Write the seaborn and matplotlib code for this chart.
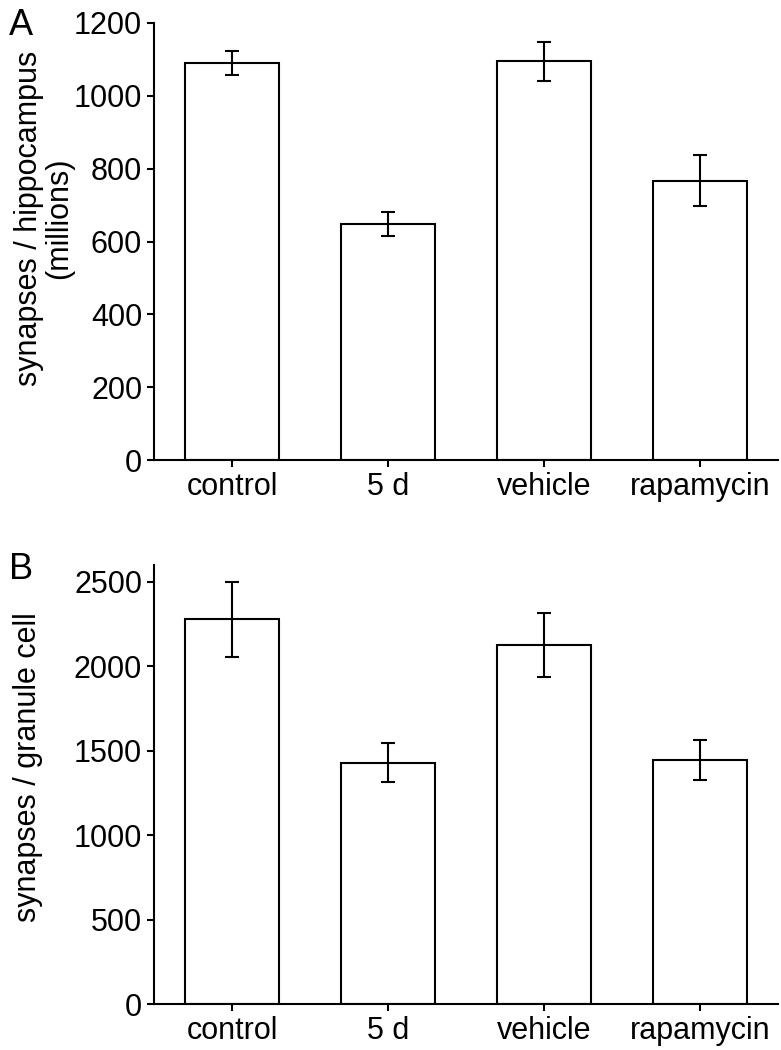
import pandas as pd
import seaborn as sns
import matplotlib.pyplot as plt

# values
groups = ["control", "5 d", "vehicle", "rapamycin"]
syn_hippo = [1090, 647, 1094, 767]
syn_hippo_err = [33, 33, 54, 70]
syn_granule = [2278, 1430, 2125, 1445]
syn_granule_err = [224, 115, 190, 120]

hippo_ticks = [0, 200, 400, 600, 800, 1000, 1200]
granule_ticks = [0, 500, 1000, 1500, 2000, 2500]

sns.set_style("ticks")
plt.rcParams["font.family"] = ["Liberation Sans", "DejaVu Sans"]
plt.rcParams["axes.linewidth"] = 1.5
for key in ["text.color", "axes.labelcolor", "xtick.color", "ytick.color", "axes.edgecolor"]:
    plt.rcParams[key] = "black"

fig = plt.figure(figsize=(7.81, 10.5), dpi=100)
ax_a = fig.add_axes([0.1972, 0.5616, 0.799, 0.4168])
ax_b = fig.add_axes([0.1972, 0.0438, 0.799, 0.4181])

panels = [
    (ax_a, syn_hippo, syn_hippo_err, hippo_ticks, 1200,
     "synapses / hippocampus\n(millions)", (-0.128, 0.552)),
    (ax_b, syn_granule, syn_granule_err, granule_ticks, 2600,
     "synapses / granule cell", (-0.178, 0.54)),
]

for ax, vals, errs, ticks, top, label, lab_pos in panels:
    df = pd.DataFrame({"group": groups, "value": vals})
    sns.barplot(data=df, x="group", y="value", color="white", saturation=1,
                edgecolor="black", linewidth=1.5, width=0.6, errorbar=None, ax=ax)
    ax.errorbar(range(len(groups)), vals, yerr=errs, fmt="none", ecolor="black",
                elinewidth=1.5, capsize=5, capthick=1.5, zorder=5)
    ax.set_xlim(-0.5, 3.5)
    ax.set_ylim(0, top)
    ax.set_yticks(ticks)
    ax.set_xlabel("")
    ax.set_ylabel(label, fontsize=22, linespacing=1.0)
    ax.yaxis.set_label_coords(*lab_pos)
    ax.tick_params(axis="both", labelsize=22, length=5, width=1.5, pad=3.5, color="black")
    sns.despine(ax=ax)

fig.text(9 / 781, 1 - 8 / 1050, "A", fontsize=26, va="top", ha="left")
fig.text(9 / 781, 1 - 552 / 1050, "B", fontsize=26, va="top", ha="left")

plt.savefig("out.png", dpi=100)
plt.close()
